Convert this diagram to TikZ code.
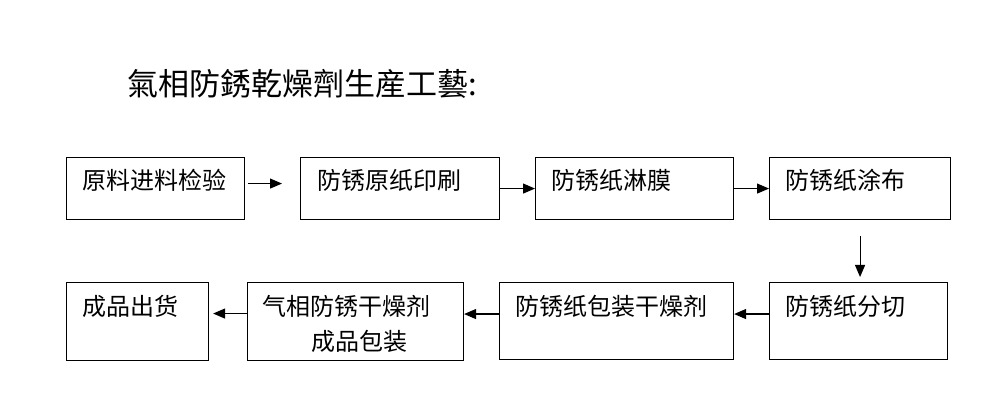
\documentclass[tikz,border=0pt]{standalone}
\usepackage{fontspec}
\newfontfamily\cjk{Noto Sans CJK SC}
\newfontfamily\cjktc{Noto Sans CJK TC}
\usetikzlibrary{arrows.meta}
\begin{document}
\begin{tikzpicture}[x=1pt,y=-1pt,
  box/.style={draw, line width=1.1pt, inner sep=0pt, anchor=north west},
  lbl/.style={anchor=base west, inner sep=0pt, align=left, font=\cjk\fontsize{24}{35}\selectfont},
  flow/.style={-{Triangle[length=12pt,width=10pt]}, line width=1.1pt}]
\useasboundingbox[fill=white] (0,0) rectangle (994,395);
% title
\node[anchor=base west, inner sep=0pt, font=\cjktc\fontsize{31}{36}\selectfont] (title) at (127,96) {氣相防銹乾燥劑生産工藝:};
% boxes top row
\node[box, minimum width=178pt, minimum height=62pt] (b1) at (66,157) {};
\node[box, minimum width=199pt, minimum height=62pt] (b2) at (300,157) {};
\node[box, minimum width=198pt, minimum height=62pt] (b3) at (535,157) {};
\node[box, minimum width=181pt, minimum height=62pt] (b4) at (769,157) {};
% boxes bottom row
\node[box, minimum width=142pt, minimum height=78pt] (b5) at (66,282) {};
\node[box, minimum width=216pt, minimum height=78pt] (b6) at (247,282) {};
\node[box, minimum width=234pt, minimum height=77pt] (b7) at (499,282) {};
\node[box, minimum width=178pt, minimum height=77pt] (b8) at (769,282) {};
% texts
\node[lbl] (t1) at ([xshift=16pt,yshift=-33pt]b1.north west) {原料进料检验};
\node[lbl] (t2) at ([xshift=17pt,yshift=-33pt]b2.north west) {防锈原纸印刷};
\node[lbl] (t3) at ([xshift=16pt,yshift=-33pt]b3.north west) {防锈纸淋膜};
\node[lbl] (t4) at ([xshift=16pt,yshift=-33pt]b4.north west) {防锈纸涂布};
\node[lbl] (t5) at ([xshift=16pt,yshift=-34pt]b5.north west) {成品出货};
\node[lbl] (t6a) at ([xshift=15pt,yshift=-34pt]b6.north west) {气相防锈干燥剂};
\node[lbl] (t6b) at ([xshift=64pt,yshift=-69pt]b6.north west) {成品包装};
\node[lbl] (t7) at ([xshift=16pt,yshift=-34pt]b7.north west) {防锈纸包装干燥剂};
\node[lbl] (t8) at ([xshift=16pt,yshift=-34pt]b8.north west) {防锈纸分切};
% connectors
\draw[flow, shorten >=18pt] ([xshift=3pt,yshift=5pt]b1.east) -- ([yshift=5pt]b1.east -| b2.west);
\draw[flow] (b2.east) -- (b3.west);
\draw[flow] (b3.east) -- (b4.west);
\draw[flow, shorten <=16pt, shorten >=5pt] (b4.south) -- (b4.south |- b8.north);
\draw[flow] ([yshift=7pt]b8.west) -- ([yshift=7pt]b8.west -| b7.east);
\draw[flow] ([yshift=7pt]b7.west) -- ([yshift=7pt]b7.west -| b6.east);
\draw[flow, shorten >=4pt] ([yshift=8pt]b6.west) -- ([yshift=8pt]b6.west -| b5.east);
\end{tikzpicture}
\end{document}
